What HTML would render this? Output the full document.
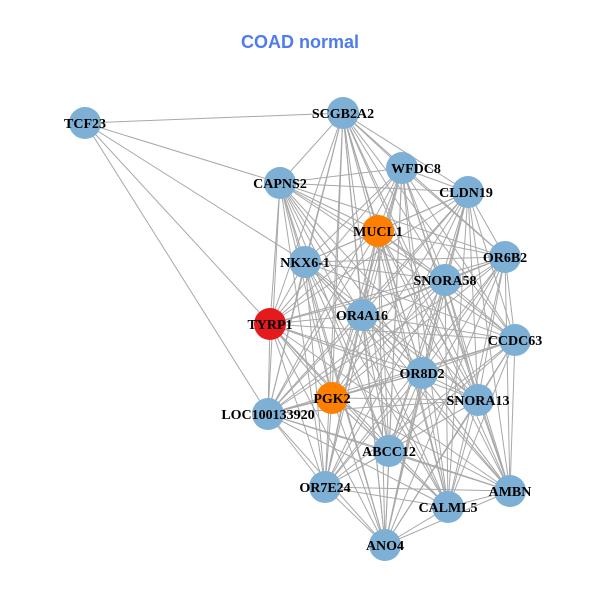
<!DOCTYPE html>
<html><head><meta charset="utf-8"><style>
html,body{margin:0;padding:0;background:#fff;width:600px;height:600px;overflow:hidden}
</style></head><body>
<svg id="s" width="600" height="600" xmlns="http://www.w3.org/2000/svg">
<rect width="600" height="600" fill="#fff"/>
<text x="300" y="48" text-anchor="middle" font-family="Liberation Sans, sans-serif" font-weight="bold" font-size="18" fill="#4f7bef">COAD normal</text>
<g id="edges" stroke="#a8a8a8" stroke-width="1"></g>
<g id="nodes">
<circle cx="85" cy="123" r="16" fill="#7eafd4"/>
<circle cx="343" cy="113" r="16" fill="#7eafd4"/>
<circle cx="402" cy="168" r="16" fill="#7eafd4"/>
<circle cx="280" cy="183" r="16" fill="#7eafd4"/>
<circle cx="468" cy="192" r="16" fill="#7eafd4"/>
<circle cx="378" cy="231" r="16" fill="#ff7f00"/>
<circle cx="305" cy="262" r="16" fill="#7eafd4"/>
<circle cx="505" cy="257" r="16" fill="#7eafd4"/>
<circle cx="445" cy="280" r="16" fill="#7eafd4"/>
<circle cx="270" cy="324" r="16" fill="#e41a1c"/>
<circle cx="362" cy="315" r="16" fill="#7eafd4"/>
<circle cx="515" cy="340" r="16" fill="#7eafd4"/>
<circle cx="422" cy="373" r="16" fill="#7eafd4"/>
<circle cx="332" cy="398" r="16" fill="#ff7f00"/>
<circle cx="478" cy="400" r="16" fill="#7eafd4"/>
<circle cx="268" cy="414" r="16" fill="#7eafd4"/>
<circle cx="389" cy="451" r="16" fill="#7eafd4"/>
<circle cx="325" cy="487" r="16" fill="#7eafd4"/>
<circle cx="510" cy="491" r="16" fill="#7eafd4"/>
<circle cx="448" cy="507" r="16" fill="#7eafd4"/>
<circle cx="385" cy="545" r="16" fill="#7eafd4"/>
</g>
<g font-family="Liberation Serif, serif" font-weight="bold" font-size="14" fill="#000" text-anchor="middle">
<text x="85" y="128">TCF23</text>
<text x="343" y="118">SCGB2A2</text>
<text x="416" y="173">WFDC8</text>
<text x="280" y="188">CAPNS2</text>
<text x="466" y="197">CLDN19</text>
<text x="378" y="236">MUCL1</text>
<text x="305" y="267">NKX6-1</text>
<text x="505" y="262">OR6B2</text>
<text x="445" y="285">SNORA58</text>
<text x="270" y="329">TYRP1</text>
<text x="362" y="320">OR4A16</text>
<text x="515" y="345">CCDC63</text>
<text x="422" y="378">OR8D2</text>
<text x="332" y="403">PGK2</text>
<text x="478" y="405">SNORA13</text>
<text x="268" y="419">LOC100133920</text>
<text x="389" y="456">ABCC12</text>
<text x="325" y="492">OR7E24</text>
<text x="510" y="496">AMBN</text>
<text x="448" y="512">CALML5</text>
<text x="385" y="550">ANO4</text>
</g>
</svg>
<script>
var P=[[85,123],[343,113],[402,168],[280,183],[468,192],[378,231],[305,262],[505,257],[445,280],[270,324],[362,315],[515,340],[422,373],[332,398],[478,400],[268,414],[389,451],[325,487],[510,491],[448,507],[385,545]];
var g=document.getElementById('edges'),ns='http://www.w3.org/2000/svg';
function L(a,b){var l=document.createElementNS(ns,'line');l.setAttribute('x1',P[a][0]);l.setAttribute('y1',P[a][1]);l.setAttribute('x2',P[b][0]);l.setAttribute('y2',P[b][1]);g.appendChild(l);}
[1,3,6,9,15].forEach(function(b){L(0,b);});
for(var i=1;i<P.length;i++)for(var j=i+1;j<P.length;j++)L(i,j);
</script>
</body></html>
